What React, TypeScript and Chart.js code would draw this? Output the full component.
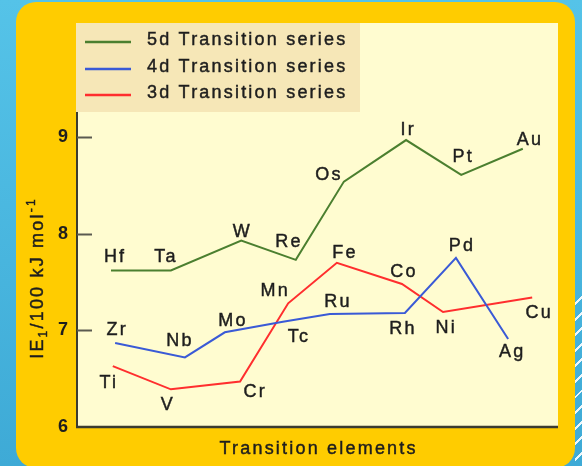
import React, { useEffect, useRef } from "react";
import { Chart, registerables } from "chart.js";

Chart.register(...registerables);

// ---- data ----
const seriesNames = ["5d Transition series", "4d Transition series", "3d Transition series"];

const fiveDLabels = ["Hf", "Ta", "W", "Re", "Os", "Ir", "Pt", "Au"];
const fiveDX = [3.98, 5.0, 6.2, 7.13, 7.95, 9.01, 9.95, 11.0];
const fiveDY = [7.62, 7.62, 7.93, 7.73, 8.54, 8.97, 8.61, 8.88];

const fourDLabels = ["Zr", "Nb", "Mo", "Tc", "Ru", "Rh", "Pd", "Ag"];
const fourDX = [4.05, 5.24, 5.92, 6.91, 7.71, 8.99, 9.86, 10.75];
const fourDY = [6.87, 6.72, 6.98, 7.09, 7.17, 7.18, 7.75, 6.91];

const threeDLabels = ["Ti", "V", "Cr", "Mn", "Fe", "Co", "Ni", "Cu"];
const threeDX = [4.01, 5.0, 6.18, 7.0, 7.83, 8.94, 9.64, 11.16];
const threeDY = [6.63, 6.39, 6.47, 7.28, 7.7, 7.48, 7.19, 7.34];

const yTicks = [6, 7, 8, 9];
const yTitleMain = ["IE", "1", "/100 kJ mol", "-1"];
const xTitle = "Transition elements";

// ---- styles ----
const colors = ["#4b7f2f", "#3a5ad6", "#ff2e2e"];
const fiveDOffsets = [[3, -15], [-6, -15], [0, -10], [-8, -19], [-16, -8], [1, -12], [1, -19], [6, -10]];
const fourDOffsets = [[1, -14], [-6, -18], [7, -13], [15, 14], [7, -13], [-3, 15], [5, -13], [3, 11]];
const threeDOffsets = [[-5, 15], [-4, 14], [14, 9], [-14, -14], [7, -11], [1, -14], [2, 14], [6, 14]];

const FONT = '"Liberation Sans", Arial, Helvetica, sans-serif';
const TEXT = "#1e1e1e";
const LS = 2.2;
const FS = 18;

const toPts = (xs: number[], ys: number[]) => xs.map((x, i) => ({ x, y: ys[i] }));

function heavyText(ctx: CanvasRenderingContext2D, t: string, x: number, y: number) {
  ctx.fillText(t, x, y);
  ctx.strokeText(t, x, y);
}

const decor = {
  id: "decor",
  beforeDraw(chart: any) {
    const { ctx, chartArea } = chart;
    ctx.save();
    ctx.fillStyle = "#fffcd0";
    ctx.fillRect(76, 23, chartArea.right - 76, chartArea.bottom - 23);
    ctx.fillStyle = "#f6e7b7";
    ctx.fillRect(76, 23, 284, 89);
    ctx.restore();
  },
  afterDraw(chart: any) {
    const { ctx, chartArea, scales } = chart;
    const xs = scales.x;
    const ys = scales.y;
    ctx.save();
    // inward ticks
    ctx.strokeStyle = "#5a5a50";
    ctx.lineWidth = 2;
    yTicks.forEach((v) => {
      if (v === ys.min) return;
      const py = Math.round(ys.getPixelForValue(v)) + 0.5;
      ctx.beginPath();
      ctx.moveTo(chartArea.left, py);
      ctx.lineTo(chartArea.left + 15, py);
      ctx.stroke();
    });
    // bottom axis
    ctx.strokeStyle = "#3b3b30";
    ctx.lineWidth = 2.5;
    ctx.beginPath();
    ctx.moveTo(chartArea.left - 1, chartArea.bottom);
    ctx.lineTo(chartArea.right, chartArea.bottom);
    ctx.stroke();

    // point labels
    ctx.fillStyle = TEXT;
    ctx.strokeStyle = TEXT;
    ctx.lineWidth = 0.45;
    ctx.font = `${FS}px ${FONT}`;
    (ctx as any).letterSpacing = `${LS}px`;
    ctx.textAlign = "center";
    ctx.textBaseline = "alphabetic";
    const groups: [string[], number[], number[], number[][]][] = [
      [fiveDLabels, fiveDX, fiveDY, fiveDOffsets],
      [fourDLabels, fourDX, fourDY, fourDOffsets],
      [threeDLabels, threeDX, threeDY, threeDOffsets],
    ];
    groups.forEach(([labels, gx, gy, offs]) => {
      labels.forEach((lab, i) => {
        const px = xs.getPixelForValue(gx[i]) + offs[i][0] + LS / 2;
        const py = ys.getPixelForValue(gy[i]) + offs[i][1] + 6.5;
        heavyText(ctx, lab, px, py);
      });
    });

    // legend
    const legendY = [42, 69, 95];
    ctx.textAlign = "left";
    seriesNames.forEach((name, i) => {
      ctx.strokeStyle = colors[i];
      ctx.lineWidth = 2.5;
      ctx.beginPath();
      ctx.moveTo(85, legendY[i]);
      ctx.lineTo(131, legendY[i]);
      ctx.stroke();
      ctx.fillStyle = TEXT;
      ctx.strokeStyle = TEXT;
      ctx.lineWidth = 0.45;
      heavyText(ctx, name, 147, legendY[i] + 3);
    });

    // x title
    ctx.textAlign = "center";
    heavyText(ctx, xTitle, (chartArea.left + chartArea.right) / 2 + LS / 2, 454);

    // y title with sub/superscript
    ctx.save();
    ctx.translate(43, 278);
    ctx.rotate(-Math.PI / 2);
    ctx.textAlign = "left";
    const big = `${FS}px ${FONT}`;
    const small = `12px ${FONT}`;
    const parts = [
      { t: yTitleMain[0], f: big, dy: 0 },
      { t: yTitleMain[1], f: small, dy: 4 },
      { t: yTitleMain[2], f: big, dy: 0 },
      { t: yTitleMain[3], f: small, dy: -8 },
    ];
    let total = 0;
    parts.forEach((p) => {
      ctx.font = p.f;
      total += ctx.measureText(p.t).width;
    });
    let cx = -total / 2;
    parts.forEach((p) => {
      ctx.font = p.f;
      heavyText(ctx, p.t, cx, p.dy);
      cx += ctx.measureText(p.t).width;
    });
    ctx.restore();
    ctx.restore();
  },
};

export default function App() {
  const ref = useRef<HTMLCanvasElement | null>(null);
  useEffect(() => {
    if (!ref.current) return;
    const chart = new Chart(ref.current, {
      type: "line",
      data: {
        datasets: [
          { label: seriesNames[0], data: toPts(fiveDX, fiveDY), borderColor: colors[0] },
          { label: seriesNames[1], data: toPts(fourDX, fourDY), borderColor: colors[1] },
          { label: seriesNames[2], data: toPts(threeDX, threeDY), borderColor: colors[2] },
        ],
      },
      options: {
        responsive: false,
        devicePixelRatio: 1,
        animation: false,
        layout: { padding: { left: 0, right: 24, top: 113, bottom: 39 } },
        elements: {
          point: { radius: 0, hoverRadius: 0 },
          line: { tension: 0, borderWidth: 2, fill: false },
        },
        scales: {
          x: { type: "linear", min: 3.4, max: 11.6, display: false },
          y: {
            type: "linear",
            min: 6,
            max: 9.25,
            afterBuildTicks: (s: any) => {
              s.ticks = yTicks.map((v) => ({ value: v }));
            },
            afterFit: (s: any) => {
              s.width = 77;
            },
            grid: { display: false, drawTicks: false },
            border: { display: true, color: "#3b3b30", width: 2 },
            ticks: {
              color: "#1e1e1e",
              padding: 9,
              font: { family: FONT, size: 18, weight: "bold" },
            },
          },
        },
        plugins: { legend: { display: false }, tooltip: { enabled: false } },
      } as any,
      plugins: [decor],
    });
    return () => chart.destroy();
  }, []);

  return (
    <div
      style={{
        position: "fixed",
        left: 0,
        top: 0,
        width: 582,
        height: 466,
        overflow: "hidden",
        background: "linear-gradient(180deg, #55c3e8 0%, #3eaad6 100%)",
      }}
    >
      <div
        style={{
          position: "absolute",
          right: 0,
          top: 290,
          width: 7,
          height: 176,
          background:
            "repeating-linear-gradient(135deg, rgba(255,255,255,0) 0px, rgba(255,255,255,0) 9px, rgba(255,255,255,0.9) 9px, rgba(255,255,255,0.9) 11px)",
        }}
      />
      <div
        style={{
          position: "absolute",
          left: 16,
          top: 2,
          width: 559,
          height: 466,
          background: "#ffcc00",
          borderRadius: 20,
        }}
      />
      <canvas
        ref={ref}
        width={582}
        height={466}
        style={{ position: "absolute", left: 0, top: 0, width: 582, height: 466 }}
      />
    </div>
  );
}
